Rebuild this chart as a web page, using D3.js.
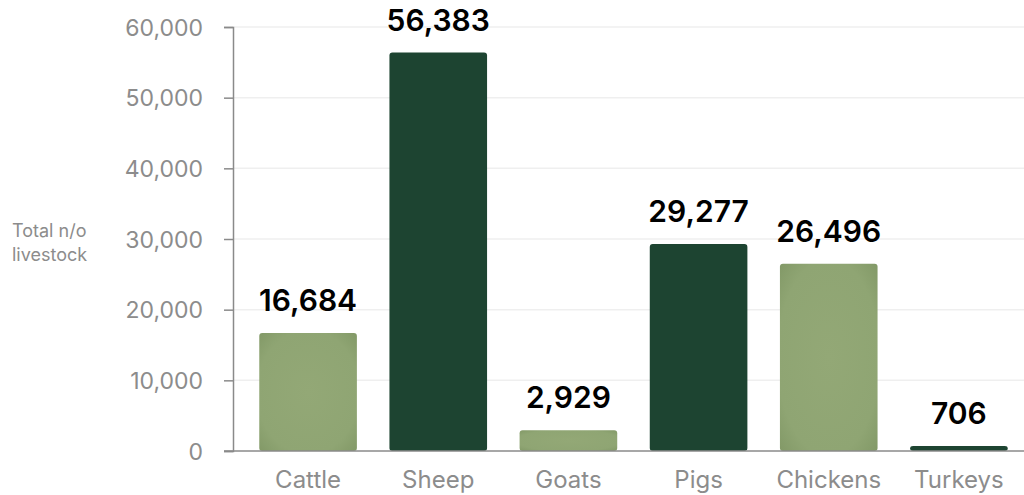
<!DOCTYPE html>
<html>
<head>
<meta charset="utf-8">
<script src="https://cdn.jsdelivr.net/npm/d3@7"></script>
<style>
  html, body { margin: 0; padding: 0; background: #fff; }
  svg { display: block; }
</style>
</head>
<body>
<svg id="chart" width="1024" height="495"></svg>
<script>
// Livestock counts by type
const categories = ["Cattle", "Sheep", "Goats", "Pigs", "Chickens", "Turkeys"];
const values = [16684, 56383, 2929, 29277, 26496, 706];
const yTicks = [0, 10000, 20000, 30000, 40000, 50000, 60000];
const barColors = ["#8ea270", "#1d4431", "#8ea270", "#1d4431", "#8ea270", "#1d4431"];

const svg = d3.select("#chart");
const plotLeft = 233, plotRight = 1024, plotTop = 27, plotBottom = 451;
const FONT = "Inter, 'Noto Sans', sans-serif";

const x = d3.scaleBand()
  .domain(categories)
  .range([243, plotRight])
  .paddingInner(0.25)
  .paddingOuter(0.125);

const y = d3.scaleLinear()
  .domain([0, 60000])
  .range([plotBottom, plotTop]);

const fmt = d3.format(",");

// soft inner shading for the light bars
const defs = svg.append("defs");
const grad = defs.append("radialGradient").attr("id", "lightFill")
  .attr("cx", "50%").attr("cy", "50%").attr("r", "75%");
grad.append("stop").attr("offset", "0%").attr("stop-color", "#93a876");
grad.append("stop").attr("offset", "70%").attr("stop-color", "#8fa573");
grad.append("stop").attr("offset", "100%").attr("stop-color", "#7f9664");

// gridlines
svg.append("g")
  .selectAll("line")
  .data(yTicks.filter(d => d > 0))
  .join("line")
  .attr("x1", plotLeft).attr("x2", plotRight)
  .attr("y1", d => y(d)).attr("y2", d => y(d))
  .attr("stroke", "#efefef").attr("stroke-width", 1.5);

// y axis
const yAxis = svg.append("g")
  .attr("transform", `translate(${plotLeft},0)`)
  .call(d3.axisLeft(y).tickValues(yTicks).tickFormat(fmt).tickSize(9).tickPadding(21));
yAxis.select(".domain").attr("stroke", "#8a8a8a").attr("stroke-width", 1.5);
yAxis.selectAll(".tick line").attr("stroke", "#8a8a8a").attr("stroke-width", 1.5);
yAxis.selectAll(".tick text")
  .attr("fill", "#8c8c8c")
  .style("font-family", FONT)
  .style("font-size", "23px")
  .attr("dy", "0.35em");

// bars
svg.append("g")
  .selectAll("rect")
  .data(categories)
  .join("rect")
  .attr("x", d => x(d))
  .attr("y", (d, i) => y(values[i]))
  .attr("width", x.bandwidth())
  .attr("height", (d, i) => y(0) - y(values[i]))
  .attr("rx", 3).attr("ry", 3)
  .attr("fill", (d, i) => i % 2 === 0 ? "url(#lightFill)" : barColors[i]);

// baseline
svg.append("line")
  .attr("x1", plotLeft - 9).attr("x2", plotRight)
  .attr("y1", y(0)).attr("y2", y(0))
  .attr("stroke", "#8a8a8a").attr("stroke-width", 1.5);

// x axis labels
svg.append("g")
  .selectAll("text")
  .data(categories)
  .join("text")
  .attr("x", d => x(d) + x.bandwidth() / 2)
  .attr("y", 488)
  .attr("text-anchor", "middle")
  .attr("fill", "#8c8c8c")
  .style("font-family", FONT)
  .style("font-size", "24px")
  .text(d => d);

// value labels
svg.append("g")
  .selectAll("text")
  .data(categories)
  .join("text")
  .attr("x", d => x(d) + x.bandwidth() / 2)
  .attr("y", (d, i) => y(values[i]) - 22)
  .attr("text-anchor", "middle")
  .attr("fill", "#000")
  .style("font-family", FONT)
  .style("font-weight", "600")
  .style("font-size", "30px")
  .text((d, i) => fmt(values[i]));

// y axis title
const title = svg.append("text")
  .attr("fill", "#8c8c8c")
  .style("font-family", FONT)
  .style("font-size", "18px");
title.append("tspan").attr("x", 12).attr("y", 237).text("Total n/o");
title.append("tspan").attr("x", 12).attr("y", 261).text("livestock");
</script>
</body>
</html>
